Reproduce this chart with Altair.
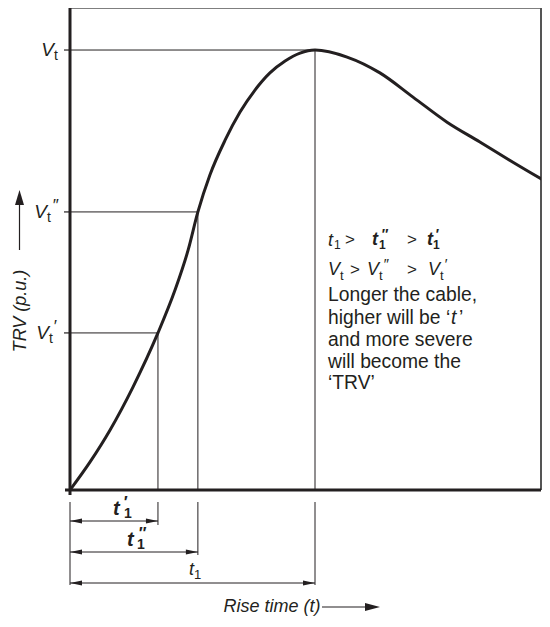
import altair as alt
import pandas as pd

# ---- data (time in units of t1, TRV in units of Vt) ----
time = [0, 0.082, 0.163, 0.257, 0.359, 0.429, 0.482, 0.522, 0.571, 0.633, 0.694,
        0.755, 0.816, 0.878, 0.939, 1.0, 1.131, 1.265, 1.4, 1.539, 1.673, 1.808, 1.951]
trv = [0, 0.064, 0.136, 0.234, 0.357, 0.455, 0.545, 0.632, 0.716, 0.795, 0.859,
       0.909, 0.948, 0.975, 0.993, 1.0, 0.984, 0.948, 0.893, 0.836, 0.791, 0.745, 0.698]
mark_t = [0.359, 0.522, 1.0]      # t1', t1'', t1
mark_v = [0.357, 0.632, 1.0]      # Vt', Vt'', Vt
note_lines = ["Longer the cable,", "and more severe", "will become the", "\u2018TRV\u2019"]

FONT = "Liberation Sans"
INK = "#231f20"
GREY = "#555555"
W, H = 471, 482
RIGHT_EDGE = 70 + W
xs = alt.Scale(domain=[0, W / 245.0], nice=False, zero=False)
ys = alt.Scale(domain=[0, 1.0955], nice=False, zero=False)

one = pd.DataFrame({"k": [0]})
curve = pd.DataFrame({"t": time, "v": trv})
lv = pd.DataFrame({"t": mark_t, "v": mark_v, "zero": [0, 0, 0]})

layers = []


def P(px, py):
    return dict(x=alt.value(px - 70), y=alt.value(py - 8))


def txt(s, px, py, size=19, style="normal", weight="normal", align="left", angle=0):
    return alt.Chart(one).mark_text(
        text=s, font=FONT, fontSize=size, fontStyle=style, fontWeight=weight,
        align=align, baseline="middle", angle=angle, color=INK
    ).encode(**P(px, py))


def seg(x1, y1, x2, y2, w=1.2, color=INK):
    return alt.Chart(one).mark_rule(color=color, strokeWidth=w).encode(
        x=alt.value(x1 - 70), x2=alt.value(x2 - 70),
        y=alt.value(y1 - 8), y2=alt.value(y2 - 8))


LEFT = "M0,0L2,-0.42L2,0.42Z"
RIGHT = "M0,0L-2,-0.42L-2,0.42Z"

# frame
layers.append(seg(RIGHT_EDGE, 8, RIGHT_EDGE, 490, 2, GREY))
layers.append(seg(70, 8, RIGHT_EDGE, 8, 1.5, GREY))

# reference lines
layers.append(alt.Chart(lv).mark_rule(color=INK, strokeWidth=1).encode(
    x=alt.X("zero:Q", scale=xs, axis=None), x2="t:Q",
    y=alt.Y("v:Q", scale=ys, axis=None)))
layers.append(alt.Chart(lv).mark_rule(color=INK, strokeWidth=1).encode(
    x=alt.X("t:Q", scale=xs, axis=None),
    y=alt.Y("v:Q", scale=ys, axis=None), y2="zero:Q"))
layers.append(alt.Chart(lv).mark_rule(color=INK, strokeWidth=1.2).encode(
    x=alt.value(-6), x2=alt.value(0), y=alt.Y("v:Q", scale=ys, axis=None)))

# curve
layers.append(alt.Chart(curve).mark_line(color=INK, strokeWidth=3, interpolate="monotone",
                                         clip=True).encode(
    x=alt.X("t:Q", scale=xs, axis=None), y=alt.Y("v:Q", scale=ys, axis=None)))

# main axes (thick)
layers.append(seg(70, 8, 70, 495, 3))
layers.append(seg(65, 490, RIGHT_EDGE, 490, 3))

# dimension lines below the axis
rows = [(525, 521), (555, 552), (585, 583)]
layers.append(seg(70, 502, 70, 585, 1))
for i, (end, row) in enumerate(rows):
    d = lv.iloc[[i]]
    layers.append(alt.Chart(d).mark_rule(color=INK, strokeWidth=1).encode(
        x=alt.X("t:Q", scale=xs, axis=None), y=alt.value(502 - 8), y2=alt.value(end - 8)))
    layers.append(alt.Chart(d).mark_rule(color=INK, strokeWidth=1).encode(
        x=alt.X("zero:Q", scale=xs, axis=None), x2="t:Q", y=alt.value(row - 8)))
    layers.append(alt.Chart(d).mark_point(shape=LEFT, filled=True, size=144, color=INK,
                                          opacity=1, strokeWidth=0).encode(
        x=alt.X("zero:Q", scale=xs, axis=None), y=alt.value(row - 8)))
    layers.append(alt.Chart(d).mark_point(shape=RIGHT, filled=True, size=144, color=INK,
                                          opacity=1, strokeWidth=0).encode(
        x=alt.X("t:Q", scale=xs, axis=None), y=alt.value(row - 8)))

# dimension labels
layers += [txt("t", 113, 509, 20, "italic", "bold"), txt("\u2032", 123, 503, 16, "italic", "bold"),
           txt("1", 124, 514, 14, "normal", "bold")]
layers += [txt("t", 127, 540, 20, "italic", "bold"), txt("\u2033", 138, 534, 16, "italic", "bold"),
           txt("1", 137, 545, 14, "normal", "bold")]
layers += [txt("t", 189, 570, 18, "italic"), txt("1", 194, 575, 13)]

# level labels on the left
layers += [txt("V", 54, 50, 19, "italic", align="right"), txt("t", 54, 56, 14)]
layers += [txt("V", 47, 212, 19, "italic", align="right"), txt("t", 47, 218, 14),
           txt("\u2033", 52, 206, 17, "italic")]
layers += [txt("V", 49, 333, 19, "italic", align="right"), txt("t", 49, 339, 14),
           txt("\u2032", 53, 327, 17, "italic")]

# y title with arrow
layers.append(txt("TRV (p.u.)", 21, 311, 18, "italic", align="center", angle=270))
layers.append(seg(19.5, 250, 19.5, 200, 1.2))
layers.append(alt.Chart(one).mark_point(shape="M0,0L-0.75,2.5L0.75,2.5Z", filled=True, size=144,
                                        color=INK, opacity=1, strokeWidth=0).encode(**P(19.5, 190)))

# x title with arrow
layers.append(txt("Rise time (t)", 272, 607, 18, "italic", align="center"))
layers.append(seg(322, 607, 368, 607, 1.2))
layers.append(alt.Chart(one).mark_point(shape="M0,0L-2.5,-0.67L-2.5,0.67Z", filled=True, size=144,
                                        color=INK, opacity=1, strokeWidth=0).encode(**P(380, 607)))

# note block
NS = 19.3
layers += [txt("t", 328, 241, 18, "italic"), txt("1", 334, 245, 12), txt(">", 345, 240, 17),
           txt("t", 372, 240, 18, "italic", "bold"), txt("1", 379, 245, 12, "normal", "bold"),
           txt("\u2033", 381, 235, 14, "italic", "bold"), txt(">", 407, 240, 17),
           txt("t", 427, 240, 18, "italic", "bold"), txt("1", 433, 245, 12, "normal", "bold"),
           txt("\u2032", 435, 235, 14, "italic", "bold")]
layers += [txt("V", 328, 270, 18, "italic"), txt("t", 340, 276, 13), txt(">", 350, 270, 17),
           txt("V", 367, 270, 18, "italic"), txt("t", 379, 276, 13), txt("\u2033", 383, 264, 15, "italic"),
           txt(">", 407, 270, 17),
           txt("V", 428, 270, 18, "italic"), txt("t", 440, 276, 13), txt("\u2032", 444, 264, 15, "italic")]
layers.append(txt(note_lines[0], 328, 295, NS))
layers += [txt("higher will be \u2018", 328, 318, NS), txt("t", 451, 318, NS, "italic"),
           txt("\u2019", 459, 318, NS)]
layers.append(txt(note_lines[1], 328, 340, NS))
layers.append(txt(note_lines[2], 328, 362, NS))
layers.append(txt(note_lines[3], 328, 383, NS))

chart = alt.layer(*layers).properties(
    width=W, height=H,
    autosize=alt.AutoSizeParams(type="none"),
    padding={"left": 62, "top": 0, "right": 1, "bottom": 127},
).configure_view(stroke=None)

chart.save("out.html", embed_options={"renderer": "svg", "actions": False})
